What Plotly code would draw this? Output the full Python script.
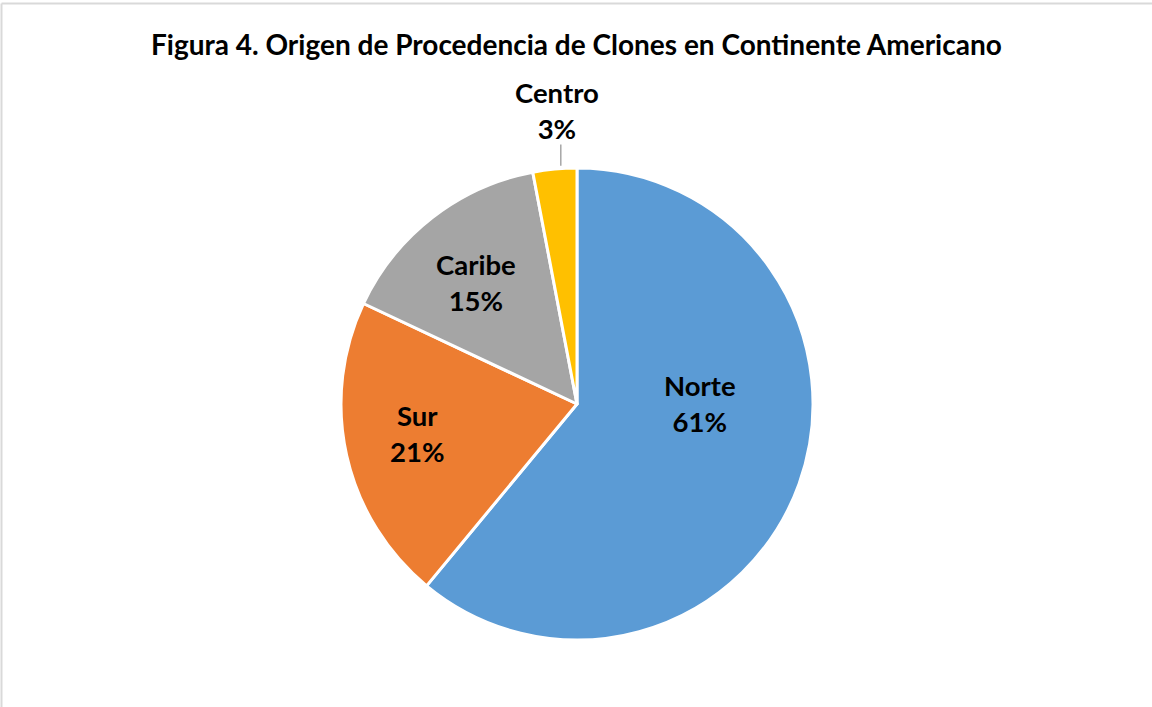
import math
import plotly.graph_objects as go

categories = ["Norte", "Sur", "Caribe", "Centro"]
values = [61, 21, 15, 3]
colors = ["#5B9BD5", "#ED7D31", "#A5A5A5", "#FFC000"]
title = "Figura 4. Origen de Procedencia de Clones en Continente Americano"

W, H = 1152, 707
cx, cy, r = 577, 404, 236
# label placement style: radial fraction and angular shift (deg)
label_frac = [0.52, 0.69, 0.67, 1.245]
label_shift = [-20, 2, -2, 1.5]

fig = go.Figure()
fig.add_trace(go.Pie(
    labels=categories, values=values, sort=False, direction="clockwise", rotation=0,
    marker=dict(colors=colors, line=dict(color="white", width=3)),
    textinfo="none", hoverinfo="label+percent", showlegend=False,
    domain=dict(x=[(cx - r) / W, (cx + r) / W], y=[(H - cy - r) / H, (H - cy + r) / H]),
))

total = sum(values)
cum = 0
anns = []
shapes = []
for i, (c, v) in enumerate(zip(categories, values)):
    mid = (cum + v / 2) / total * 360 + label_shift[i]
    cum += v
    th = math.radians(mid)
    px = cx + label_frac[i] * r * math.sin(th)
    py = cy - label_frac[i] * r * math.cos(th)
    pct = round(v / total * 100)
    anns.append(dict(x=px / W, y=1 - py / H, xref="paper", yref="paper",
                     text=f"<b>{c}</b><br><b>{pct}%</b>", showarrow=False,
                     font=dict(family="Lato", size=27.5, color="#000000"),
                     xanchor="center", yanchor="middle", align="center"))
    if label_frac[i] > 1:
        x0 = cx + 1.01 * r * math.sin(math.radians(mid))
        shapes.append(dict(type="line", xref="paper", yref="paper",
                           x0=x0 / W, x1=x0 / W,
                           y0=1 - (cy - 1.01 * r) / H, y1=1 - (cy - 1.1 * r) / H,
                           line=dict(color="#A6A6A6", width=1.5)))

# chart-area border (top and left edges visible)
shapes.append(dict(type="line", xref="paper", yref="paper",
                   x0=1.5 / W, x1=1, y0=1 - 3.5 / H, y1=1 - 3.5 / H,
                   line=dict(color="#D9D9D9", width=2)))
shapes.append(dict(type="line", xref="paper", yref="paper",
                   x0=1.5 / W, x1=1.5 / W, y0=0, y1=1 - 3.5 / H,
                   line=dict(color="#D9D9D9", width=2)))

anns.append(dict(x=576 / W, y=1 - 44 / H, xref="paper", yref="paper",
                 text=f"<b>{title}</b>", showarrow=False,
                 font=dict(family="Lato", size=28, color="#000000"),
                 xanchor="center", yanchor="middle"))

fig.update_layout(width=W, height=H, margin=dict(l=0, r=0, t=0, b=0),
                  paper_bgcolor="white", plot_bgcolor="white",
                  annotations=anns, shapes=shapes)
fig.write_html("out.html", config={"displayModeBar": False},
               post_script="document.body.style.margin='0';document.body.style.overflow='hidden';")
